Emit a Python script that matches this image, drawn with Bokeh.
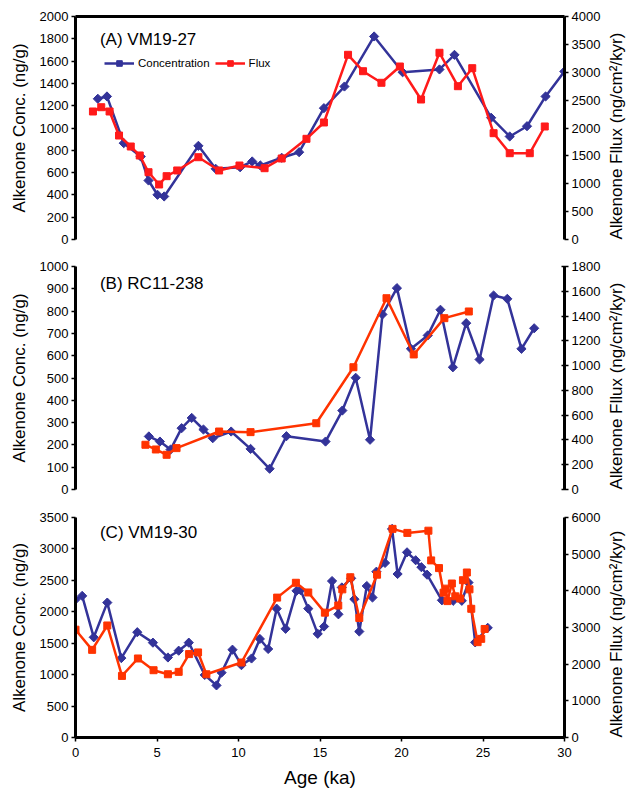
import math
from bokeh.plotting import figure
from bokeh.models import Range1d, LinearAxis, FixedTicker, Label, Legend, LegendItem
from bokeh.layouts import column
from bokeh.embed import file_html
from bokeh.resources import INLINE

FONT = "Liberation Sans"
BLUE = "#333399"
RED_A = "#FF1A1A"
RED = "#FF3300"

# ---------------- data ----------------
# (A) VM19-27
a_conc_age = [1.37, 1.93, 2.96, 4.0, 4.48, 5.03, 5.44, 7.54, 8.6, 10.1, 10.84, 11.34, 12.65,
              13.72, 15.24, 16.5, 18.32, 20.07, 22.33, 23.25, 25.5, 26.64, 27.7, 28.84, 29.99]
a_conc = [1262, 1283, 864, 744, 529, 401, 386, 840, 634, 648, 700, 664, 733,
          783, 1178, 1372, 1821, 1500, 1525, 1656, 1092, 924, 1016, 1283, 1507]
a_flux_age = [1.07, 1.58, 2.09, 2.67, 3.39, 3.94, 4.48, 5.13, 5.59, 6.24, 7.54, 8.81, 10.06,
              11.6, 12.65, 14.17, 15.24, 16.72, 17.64, 18.77, 19.9, 21.2, 22.33, 23.46,
              24.34, 25.65, 26.64, 27.87, 28.79]
a_flux = [2296, 2373, 2296, 1865, 1668, 1507, 1207, 987, 1136, 1238, 1476, 1238, 1327,
          1279, 1453, 1806, 2099, 3313, 3019, 2811, 3103, 2511, 3349, 2750,
          3073, 1907, 1548, 1548, 2027]

# (B) RC11-238
b_conc_age = [4.5, 5.18, 5.83, 6.51, 7.13, 7.85, 8.42, 9.55, 10.74, 11.91, 12.94, 15.34, 16.37,
              17.19, 18.07, 18.83, 19.72, 20.58, 21.61, 22.39, 23.15, 23.97, 24.79, 25.65,
              26.49, 27.36, 28.14]
b_conc = [238, 215, 179, 275, 321, 269, 230, 260, 182, 93, 239, 215, 354,
          501, 223, 785, 903, 631, 691, 806, 548, 746, 583, 870,
          855, 631, 723]
b_flux_age = [4.29, 4.93, 5.59, 6.2, 8.81, 10.74, 14.77, 17.05, 19.08, 20.75, 22.63, 24.13]
b_flux = [361, 323, 280, 334, 468, 463, 535, 987, 1544, 1090, 1383, 1437]

# (C) VM19-30
c_conc_age = [0.0, 0.41, 1.12, 1.95, 2.81, 3.79, 4.75, 5.67, 6.33, 6.95, 7.93, 8.65, 8.96,
              9.63, 10.18, 10.8, 11.31, 11.82, 12.34, 12.89, 13.56, 13.81, 14.28, 14.86,
              15.25, 15.74, 16.13, 16.34, 16.91, 17.11, 17.41, 17.87, 18.22, 18.46, 18.99,
              19.42, 19.76, 20.34, 20.87, 21.22, 21.57, 22.48, 23.17, 23.7, 24.11, 24.52, 25.29]
c_conc = [2195, 2253, 1594, 2146, 1263, 1675, 1509, 1273, 1381, 1509, 995, 829, 1032,
          1397, 1151, 1257, 1568, 1408, 2050, 1729, 2333, 2344, 2050, 1649,
          1766, 2489, 1960, 2387, 2532, 2200, 1686, 2410, 2227, 2638, 2777,
          3318, 2601, 2946, 2820, 2710, 2590, 2183, 2175, 2175, 2465, 1514, 1745]
c_flux_age = [0.0, 1.02, 1.95, 2.85, 3.83, 4.79, 5.67, 6.33, 6.97, 7.52, 8.03, 10.18, 12.37,
              13.52, 14.28, 15.3, 16.12, 16.37, 16.86, 17.41, 18.5, 19.45, 20.36, 21.65,
              21.82, 22.3, 22.58, 22.7, 22.82, 23.09, 23.3, 23.6, 23.77, 24.01, 24.17,
              24.28, 24.67, 24.89, 25.1]
c_flux = [2940, 2390, 3055, 1680, 2155, 1835, 1725, 1790, 2275, 2320, 1725, 2045, 3815,
          4220, 3955, 3405, 3600, 4040, 4370, 3260, 4440, 5690, 5580, 5640,
          4830, 4620, 3950, 4060, 3720, 4200, 3850, 3790, 4290, 4500, 4040,
          3510, 2600, 2690, 2960]

x_ticks = [0, 5, 10, 15, 20, 25, 30]
a_left_ticks = list(range(0, 2001, 200))
a_right_ticks = list(range(0, 4001, 500))
b_left_ticks = list(range(0, 1001, 100))
b_right_ticks = list(range(0, 1801, 200))
c_left_ticks = list(range(0, 3501, 500))
c_right_ticks = list(range(0, 6001, 1000))

LEFT_LABEL = "Alkenone Conc. (ng/g)"
RIGHT_LABEL = "Alkenone Fllux (ng/cm\u00b2/kyr)"


def style_axis(ax, ticks, label, tick_in=0):
    ax.ticker = FixedTicker(ticks=ticks)
    ax.axis_label = label
    ax.axis_label_text_font = FONT
    ax.axis_label_text_font_size = "17px"
    ax.axis_label_text_font_style = "normal"
    ax.axis_label_text_color = "black"
    ax.major_label_text_font = FONT
    ax.major_label_text_font_size = "13px"
    ax.major_label_text_color = "black"
    ax.axis_line_width = 3
    ax.axis_line_color = "black"
    ax.major_tick_out = 4
    ax.major_tick_in = tick_in
    ax.major_tick_line_width = 1.5
    ax.major_tick_line_color = "black"
    ax.minor_tick_line_color = None
    ax.major_label_standoff = 3


def make_panel(frame_h, top, bottom, ymax_l, ymax_r, lt, rt, with_x, title, title_y,
               conc_age, conc, flux_age, flux, red, right_tick_in=0):
    p = figure(frame_width=489, frame_height=frame_h,
               x_range=Range1d(0, 30), y_range=Range1d(0, ymax_l),
               output_backend="svg", toolbar_location=None,
               x_axis_location="below" if with_x else None,
               min_border_left=75, min_border_right=70,
               min_border_top=top, min_border_bottom=bottom)
    p.outline_line_color = None
    p.xgrid.visible = False
    p.ygrid.visible = False
    p.background_fill_color = "white"
    p.border_fill_color = "white"
    style_axis(p.yaxis[0], lt, LEFT_LABEL)
    p.yaxis[0].axis_label_standoff = 8
    if with_x:
        style_axis(p.xaxis[0], x_ticks, "Age (ka)")
        p.xaxis[0].axis_label_text_font_size = "19px"
        p.xaxis[0].axis_label_standoff = 7
        p.xaxis[0].major_label_standoff = 6
    p.extra_y_ranges = {"flux": Range1d(0, ymax_r)}
    rax = LinearAxis(y_range_name="flux")
    style_axis(rax, rt, RIGHT_LABEL, tick_in=right_tick_in)
    rax.axis_label_standoff = 13
    rax.axis_label_orientation = math.pi / 2
    for val in ("start", "left"):
        try:
            rax.axis_label_align = val
            break
        except Exception:
            pass
    p.add_layout(rax, "right")

    bl = p.line(conc_age, conc, line_color=BLUE, line_width=2.5)
    bm = p.scatter(conc_age, conc, marker="square", angle=math.pi / 4, size=6.5,
                   fill_color=BLUE, line_color=BLUE)
    rl = p.line(flux_age, flux, line_color=red, line_width=2.5, y_range_name="flux")
    rm = p.scatter(flux_age, flux, marker="square", size=7, fill_color=red, line_color=red,
                   y_range_name="flux")

    p.add_layout(Label(x=1.5, y=title_y, text=title, text_font=FONT, text_font_size="17px",
                       text_baseline="alphabetic", text_color="black"))
    return p, (bl, bm, rl, rm)


pA, rA = make_panel(223, 16, 19, 2000, 4000, a_left_ticks, a_right_ticks, False,
                    "(A) VM19-27", 1794, a_conc_age, a_conc, a_flux_age, a_flux, RED_A)
top_ax = LinearAxis(ticker=FixedTicker(ticks=[]), axis_line_width=3, axis_line_color="black",
                    major_tick_line_color=None, minor_tick_line_color=None,
                    major_label_standoff=0)
pA.add_layout(top_ax, "above")

legend = Legend(items=[LegendItem(label="Concentration", renderers=[rA[0], rA[1]]),
                       LegendItem(label="Flux", renderers=[rA[2], rA[3]])],
                orientation="horizontal", location=(29, 169),
                glyph_width=30, glyph_height=14, label_standoff=4, spacing=5,
                padding=0, margin=0, border_line_color=None, background_fill_alpha=0,
                label_text_font=FONT, label_text_font_size="11.5px",
                label_text_color="black", label_height=14)
pA.add_layout(legend)

pB, _ = make_panel(223, 8, 19, 1000, 1800, b_left_ticks, b_right_ticks, False,
                   "(B) RC11-238", 922, b_conc_age, b_conc, b_flux_age, b_flux, RED,
                   right_tick_in=3)

pC, _ = make_panel(220, 9, 45, 3500, 6000, c_left_ticks, c_right_ticks, True,
                   "(C) VM19-30", 3257, c_conc_age, c_conc, c_flux_age, c_flux, RED)

layout = column(pA, pB, pC, spacing=0)
open("out.html", "w").write(file_html(layout, INLINE))
